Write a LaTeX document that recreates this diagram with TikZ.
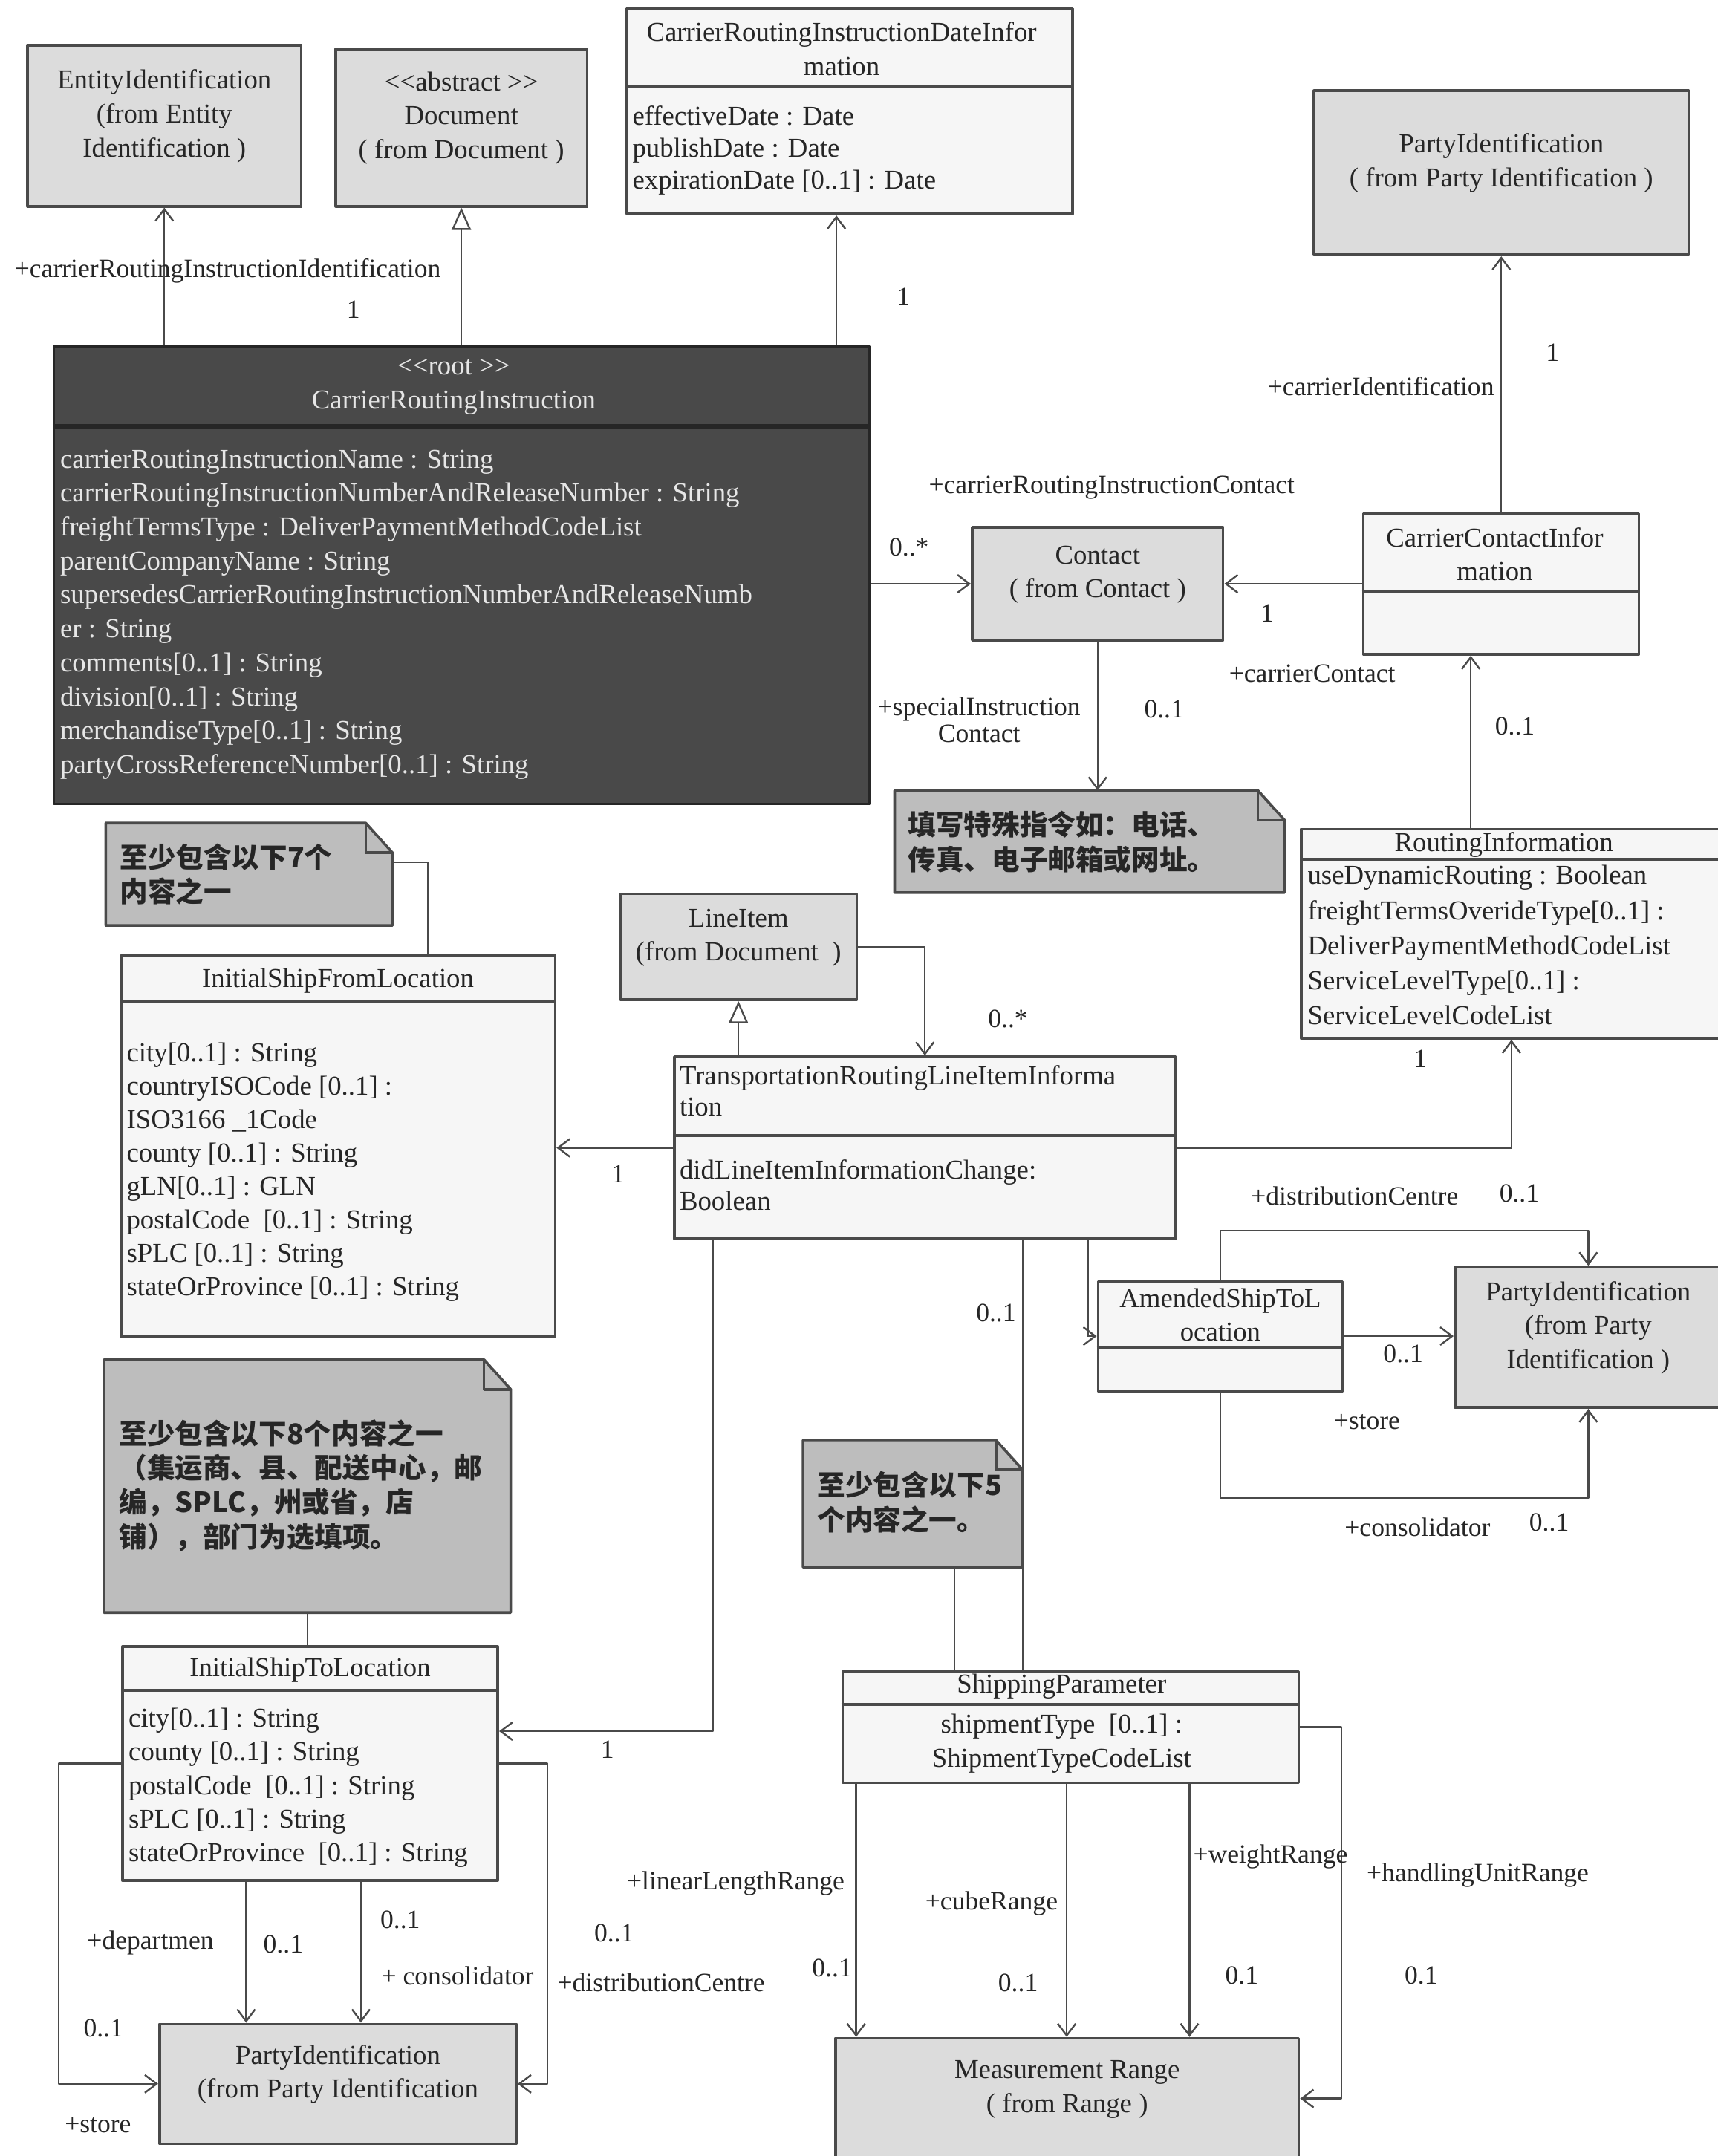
\documentclass[tikz,border=0pt]{standalone}
\usepackage{fontspec}
\setmainfont{Liberation Serif}
\newfontfamily\cjkfont{Noto Sans CJK SC}
\usetikzlibrary{arrows.meta,fit,calc}
\definecolor{inkgray}{HTML}{262626}
\definecolor{edgegray}{HTML}{4A4A4A}
\definecolor{refgray}{HTML}{DCDCDC}
\definecolor{classgray}{HTML}{F6F6F6}
\definecolor{rootgray}{HTML}{494949}
\definecolor{rootink}{HTML}{E6E6E6}
\definecolor{notegray}{HTML}{BDBDBD}
\begin{document}
\begin{tikzpicture}[x=0.463pt,y=-0.463pt,line join=round,
  font=\fontsize{9.2}{11.4}\selectfont,text=inkgray,
  umlbox/.style={draw=edgegray,line width=0.9pt,inner sep=0pt},
  refbox/.style={umlbox,fill=refgray,align=center},
  classbox/.style={umlbox,fill=classgray},
  rootbox/.style={umlbox,draw=black!85,fill=rootgray},
  notebase/.style={inner sep=0pt},
  notepaper/.style={draw=edgegray,line width=0.9pt,fill=notegray},
  sepline/.style={draw=edgegray,line width=0.9pt},
  headtext/.style={align=center,inner sep=0pt},
  attrtext/.style={anchor=west,inner sep=0pt,text height=7pt,text depth=2pt},
  notetext/.style={anchor=west,align=left,inner sep=0pt,font=\cjkfont\bfseries\fontsize{9.4}{11.6}\selectfont},
  rolelabel/.style={anchor=west,inner sep=0pt,text height=7pt,text depth=2pt,font=\fontsize{8.9}{10}\selectfont},
  multlabel/.style={inner sep=0pt,text height=7pt,text depth=2pt,font=\fontsize{8.9}{10}\selectfont},
  wire/.style={draw=edgegray,line width=0.6pt},
  assocline/.style={wire,-{Straight Barb[length=4pt,width=6pt]}},
  generline/.style={wire,-{Triangle[open,length=7.5pt,width=6.5pt,fill=white]}}]
\useasboundingbox (0,0) rectangle (1249,1568);

\node[refbox,fit={(20,33) (219,150)}] (entity) {EntityIdentification\\(from Entity\\Identification )};
\node[refbox,fit={(244,35.5) (427,150)}] (doc) {<{}<abstract >{}>\\Document\\( from Document )};
\node[refbox,fit={(955.5,66) (1228,185.4)}] (ptop) {PartyIdentification\\( from Party Identification )};
\node[refbox,fit={(707,383.5) (889.4,465.6)}] (contact) {Contact\\( from Contact )};
\node[refbox,fit={(451,650) (623,727)}] (lineitem) {LineItem\\(from Document~~)};
\node[refbox,fit={(1058,921.5) (1252,1023.6)}] (pmid) {PartyIdentification\\(from Party\\Identification )};
\node[refbox,fit={(116,1472) (375.5,1559)}] (pbot) {PartyIdentification\\(from Party Identification};
\node[refbox,fit={(607.5,1482.4) (944.5,1570)}] (range) {Measurement Range\\( from Range )};

\node[classbox,fit={(455.7,6.3) (780,155.7)}] (dateinfo) {};
\node[rootbox,fit={(39.2,252) (632,584.6)}] (cri) {};
\node[classbox,fit={(991.4,373.6) (1191.7,475.9)}] (cci) {};
\node[classbox,fit={(946.2,603) (1252,755.2)}] (routing) {};
\node[classbox,fit={(88,695) (403.7,972.3)}] (shipfrom) {};
\node[classbox,fit={(490.4,768.6) (854.8,901)}] (trli) {};
\node[classbox,fit={(798.5,931.9) (976.3,1011.5)}] (amended) {};
\node[classbox,fit={(89,1197.5) (362,1367.6)}] (shipto) {};
\node[classbox,fit={(612.7,1215.6) (944.5,1296.5)}] (shipparam) {};

\node[notebase,fit={(651,575.3) (933.7,648.7)}] (nspecial) {};
\node[notebase,fit={(77.3,599) (285,672.6)}] (nfrom) {};
\node[notebase,fit={(76,989.3) (371,1172.3)}] (nto) {};
\node[notebase,fit={(584.4,1047.7) (743.2,1139.3)}] (nparam) {};
\foreach \n in {nspecial,nfrom,nto,nparam}{
  \filldraw[notepaper] (\n.north west) -- ([xshift=-9pt]\n.north east) -- ([yshift=-10pt]\n.north east) -- (\n.south east) -- (\n.south west) -- cycle;
  \draw[notepaper,fill=none] ([xshift=-9pt]\n.north east) -- ([xshift=-9pt,yshift=-10pt]\n.north east) -- ([yshift=-10pt]\n.north east);
}

\foreach \b/\y in {dateinfo/63,cci/430.4,routing/625,shipfrom/728,trli/825.7,amended/980,shipto/1229.2,shipparam/1239.5}
  \draw[sepline] (\b.west |- 0,\y) -- (\b.east |- 0,\y);
\draw[sepline,draw=black!85,line width=1.3pt] (cri.west |- 0,310) -- (cri.east |- 0,310);

\node[headtext] (dateinfo-h) at (612,35.5) {CarrierRoutingInstructionDateInfor\\mation};
\node[headtext,text=rootink] (cri-h) at (330,281.5) {<{}<root >{}>\\CarrierRoutingInstruction};
\node[headtext] (cci-h) at (1087,403) {CarrierContactInfor\\mation};
\node[headtext] (routing-h) at (1093.6,614.6) {RoutingInformation};
\node[headtext] (shipfrom-h) at (245.8,713.5) {InitialShipFromLocation};
\node[headtext] (amended-h) at (887.4,956.2) {AmendedShipToL\\ocation};
\node[headtext] (shipto-h) at (225.5,1214.8) {InitialShipToLocation};
\node[headtext] (shipparam-h) at (772,1226.7) {ShippingParameter};
\node[headtext] (shipparam-a) at (772,1268.2) {shipmentType~~[0..1] :\\ShipmentTypeCodeList};

\foreach \txt [count=\i from 0] in {carrierRoutingInstructionName : String,carrierRoutingInstructionNumberAndReleaseNumber : String,freightTermsType : DeliverPaymentMethodCodeList,parentCompanyName : String,supersedesCarrierRoutingInstructionNumberAndReleaseNumb,er : String,comments[0..1] : String,division[0..1] : String,merchandiseType[0..1] : String,partyCrossReferenceNumber[0..1] : String}
  \node[attrtext,text=rootink] (cri-a\i) at (43.4,{334.9+24.7*\i}) {\txt};
\foreach \txt [count=\i from 0] in {effectiveDate : Date,publishDate : Date,expirationDate [0..1] : Date}
  \node[attrtext] (dateinfo-a\i) at (459.5,{85.5+23.4*\i}) {\txt};
\foreach \txt [count=\i from 0] in {useDynamicRouting : Boolean,freightTermsOverideType[0..1] :,DeliverPaymentMethodCodeList,ServiceLevelType[0..1] :,ServiceLevelCodeList}
  \node[attrtext] (routing-a\i) at (950.5,{637.8+25.5*\i}) {\txt};
\foreach \txt [count=\i from 0] in {city[0..1] : String,countryISOCode [0..1] :,ISO3166 \_1Code,county [0..1] : String,gLN[0..1] : GLN,postalCode~~[0..1] : String,sPLC [0..1] : String,stateOrProvince [0..1] : String}
  \node[attrtext] (shipfrom-a\i) at (91.7,{766.6+24.3*\i}) {\txt};
\foreach \txt [count=\i from 0] in {TransportationRoutingLineItemInforma,tion,,didLineItemInformationChange:,Boolean}
  \node[attrtext] (trli-a\i) at (493.8,{783.5+22.8*\i}) {\txt};
\foreach \txt [count=\i from 0] in {city[0..1] : String,county [0..1] : String,postalCode~~[0..1] : String,sPLC [0..1] : String,stateOrProvince~~[0..1] : String}
  \node[attrtext] (shipto-a\i) at (93.1,{1250.8+24.4*\i}) {\txt};

\node[notetext] (nspecial-t) at (660,612.3) {填写特殊指令如：电话、\\传真、电子邮箱或网址。};
\node[notetext] (nfrom-t) at (86.8,635.8) {至少包含以下7个\\内容之一};
\node[notetext] (nto-t) at (86.3,1080.4) {至少包含以下8个内容之一\\（集运商、县、配送中心，邮\\编，SPLC，州或省，店\\铺），部门为选填项。};
\node[notetext] (nparam-t) at (594,1092.4) {至少包含以下5\\个内容之一。};

\draw[assocline] (cri.north -| entity.south) -- (entity.south);
\draw[generline] (cri.north -| doc.south) -- (doc.south);
\coordinate (dateport) at ($(dateinfo.south)+(-9.6,0)$);
\draw[assocline] (cri.north -| dateport) -- (dateport);
\draw[assocline] (cri.east |- contact.west) -- (contact.west);
\draw[assocline] (cci.west |- contact.east) -- (contact.east);
\draw[assocline] (cci.north -| ptop.south) -- (ptop.south);
\draw[assocline] (contact.south) -- (contact.south |- nspecial.north);
\coordinate (cciport) at ($(cci.south)+(-22,0)$);
\draw[assocline] (routing.north -| cciport) -- (cciport);
\coordinate (fromport) at ($(nfrom.north east)+(0,28.5)$);
\coordinate (shipfromtop) at ($(shipfrom.north)+(65.3,0)$);
\draw[wire] (fromport) -| (shipfromtop);
\draw[assocline] (trli.west) -- (trli.west -| shipfrom.east);
\draw[generline] (trli.north -| lineitem.south) -- (lineitem.south);
\draw[assocline] (lineitem.east) -| (trli.north);
\draw[assocline] (trli.east) -| (routing.south);
\coordinate (toport) at ($(trli.south)+(-154.1,0)$);
\coordinate (paramport) at ($(trli.south)+(71.4,0)$);
\coordinate (amendport) at ($(trli.south)+(118.4,0)$);
\coordinate (shiptoport) at ($(shipto.east)+(0,-23.5)$);
\draw[assocline] (toport) |- (shiptoport);
\draw[wire] (paramport) -- (paramport |- shipparam.north);
\draw[assocline] (amendport) |- (amended.west);
\coordinate (paramnote) at ($(nparam.south)+(30.4,0)$);
\draw[wire] (paramnote) -- (paramnote |- shipparam.north);
\draw[wire] (nto.south) -- (nto.south |- shipto.north);
\draw[assocline] (amended.east) -- (amended.east -| pmid.west);
\draw[assocline] (amended.north) -- ++(0,-36) -| (pmid.north);
\draw[assocline] (amended.south) -- ++(0,77) -| (pmid.south);
\foreach \dx [count=\k] in {-156,-2.9,86.4}{
  \coordinate (sp\k) at ($(shipparam.south)+(\dx,0)$);
  \draw[assocline] (sp\k) -- (sp\k |- range.north);
}
\draw[assocline] (shipparam.east) -- ++(30,0) |- (range.east);
\foreach \dx [count=\k] in {-46.5,37}{
  \coordinate (st\k) at ($(shipto.south)+(\dx,0)$);
  \draw[assocline] (st\k) -- (st\k |- pbot.north);
}
\draw[assocline] (shipto.west) -- ++(-45.4,0) |- (pbot.west);
\draw[assocline] (shipto.east) -- ++(35,0) |- (pbot.east);

\node[rolelabel] (r-ident) at (10.3,196.2) {+carrierRoutingInstructionIdentification};
\node[multlabel] (m-ident) at (257,226) {1};
\node[multlabel] (m-date) at (657,217) {1};
\node[rolelabel] (r-contact) at (675,353.5) {+carrierRoutingInstructionContact};
\node[multlabel] (m-contact) at (661,399) {0..*};
\node[multlabel] (m-ccicon) at (921.5,446.7) {1};
\node[rolelabel] (r-carrid) at (921.5,282) {+carrierIdentification};
\node[multlabel] (m-carrid) at (1129,257.3) {1};
\node[align=center,inner sep=0pt,font=\fontsize{8.9}{9}\selectfont] (r-special) at (712,523.6) {+specialInstruction\\Contact};
\node[multlabel] (m-special) at (846.5,516.4) {0..1};
\node[rolelabel] (r-carrcon) at (893.4,490.6) {+carrierContact};
\node[multlabel] (m-carrcon) at (1101.6,529) {0..1};
\node[multlabel] (m-from) at (449.5,854.6) {1};
\node[multlabel] (m-line) at (733,741.8) {0..*};
\node[multlabel] (m-routing) at (1032.8,771.2) {1};
\node[rolelabel] (r-adist) at (909.3,871.2) {+distributionCentre};
\node[multlabel] (m-adist) at (1104.8,868.9) {0..1};
\node[multlabel] (m-astore) at (1020.4,985.6) {0..1};
\node[rolelabel] (r-astore) at (969.5,1034) {+store};
\node[rolelabel] (r-acons) at (977.4,1112) {+consolidator};
\node[multlabel] (m-acons) at (1126.5,1108.3) {0..1};
\node[multlabel] (m-param) at (724.3,955.9) {0..1};
\node[multlabel] (m-to) at (441.7,1273.6) {1};
\node[rolelabel] (r-linear) at (455.5,1369) {+linearLengthRange};
\node[multlabel] (m-linear) at (605,1432.3) {0..1};
\node[rolelabel] (r-cube) at (672.5,1383.3) {+cubeRange};
\node[multlabel] (m-cube) at (740.3,1442.7) {0..1};
\node[rolelabel] (r-weight) at (867.3,1349.4) {+weightRange};
\node[multlabel] (m-weight) at (903,1437.5) {0.1};
\node[rolelabel] (r-handling) at (993.5,1363) {+handlingUnitRange};
\node[multlabel] (m-handling) at (1033.5,1437.5) {0.1};
\node[rolelabel] (r-dept) at (63,1412) {+departmen};
\node[multlabel] (m-dept) at (206,1415) {0..1};
\node[multlabel] (m-cons) at (291,1397) {0..1};
\node[rolelabel] (r-cons) at (277,1438) {+ consolidator};
\node[multlabel] (m-dist) at (446.6,1406.5) {0..1};
\node[rolelabel] (r-dist) at (405,1442.8) {+distributionCentre};
\node[multlabel] (m-store) at (75.2,1476) {0..1};
\node[rolelabel] (r-store) at (46.7,1545.5) {+store};
\end{tikzpicture}
\end{document}
